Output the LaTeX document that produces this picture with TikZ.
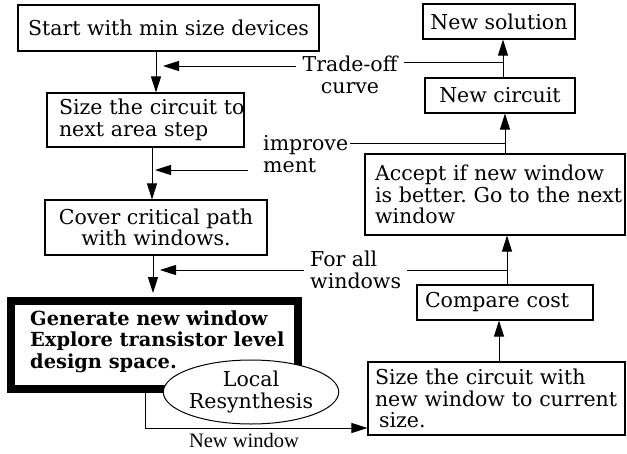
\documentclass[tikz,border=0pt]{standalone}
\usepackage{fontspec}
\setmainfont{DejaVu Serif}
\newfontfamily\timesfont{Liberation Serif}
\usetikzlibrary{arrows.meta,shapes.geometric}
\begin{document}
\begin{tikzpicture}[x=1pt,y=-1pt,
  mainfont/.style={font=\fontsize{20.5}{21.5}\selectfont\frenchspacing},
  box/.style={draw,line width=1.1pt,rectangle,inner sep=0pt,mainfont},
  arr/.style={line width=1pt,-{Triangle[length=16pt,width=10pt]}},
  ln/.style={line width=1pt},
  lbl/.style={inner xsep=6pt,inner ysep=0pt,mainfont}]
\useasboundingbox (0,0) rectangle (627,453);
% coordinates used as x/y references
\coordinate (xa) at (156,0);
\coordinate (xb) at (152,0);
\coordinate (xc) at (153,0);
\coordinate (v1) at (503,0);
\coordinate (v2) at (505,0);
\coordinate (v3) at (507,0);
\coordinate (v4) at (499,0);
\coordinate (t1) at (163,66);
\coordinate (t2) at (503,62);
\coordinate (i1) at (155,170);
\coordinate (i2) at (505,143);
\coordinate (f1) at (160,270);
\coordinate (f2) at (507,270);
\coordinate (nwc) at (145,428);
% left column
\node[box,minimum width=301,minimum height=46,align=center] (b1) at (168.5,28) {Start with min size devices};
\node[box,minimum width=197,minimum height=54,inner xsep=12,text width=173,align=left] (b2) at (145.5,120) {\mbox{Size the circuit to}\\\mbox{next area step}};
\node[box,minimum width=222,minimum height=55,align=center] (b3) at (156,227.5) {Cover critical path\\with windows.};
\node[box,line width=8pt,minimum width=287,minimum height=88] (b4) at (154.5,345) {};
\node[lbl,inner xsep=0pt,anchor=west,align=left,font=\fontsize{19.4}{21.5}\selectfont\bfseries] (b4t) at (30,341.5) {Generate new window\\Explore transistor level\\design space.};
\node[draw,ellipse,fill=white,line width=1pt,minimum width=156,minimum height=64,inner sep=0pt,align=center,mainfont] (ls) at (251,392) {Local\\Resynthesis};
% right column
\node[box,minimum width=152,minimum height=35,align=center] (ns) at (499,21.5) {New solution};
\node[box,minimum width=150,minimum height=35,align=center] (nc) at (500,95.5) {New circuit};
\node[box,minimum width=260,minimum height=81,inner xsep=10,text width=240,align=left] (acc) at (495,194.5) {\mbox{Accept if new window}\\\mbox{is better. Go to the next}\\\mbox{window}};
\node[box,minimum width=176,minimum height=35,inner xsep=8,text width=160,align=left] (cc) at (505,302.5) {\mbox{Compare cost}};
\node[box,minimum width=257,minimum height=73,inner xsep=7,text width=243,align=left] (sz) at (496.5,398.5) {\mbox{Size the circuit with}\\\mbox{new window to current}\\\mbox{\hspace{4pt}size.}};
% labels
\node[lbl,align=center] (to) at (350,75) {Trade-off\\curve};
\node[lbl,anchor=west,align=left,inner xsep=2pt] (im) at (261,154) {improve\\ment};
\node[lbl,anchor=west,align=left] (fa) at (304,270) {For all\\windows};
\node[inner sep=0pt,font=\timesfont\fontsize{20.5}{22}\selectfont] (nwl) at (244,440) {New window};
% main flow
\draw[arr] (b1.south -| xa) -- (b2.north -| xa);
\draw[arr] (b2.south -| xb) -- (b3.north -| xb);
\draw[arr,shorten >=4pt] (b3.south -| xc) -- (b4.north -| xc);
\draw[arr] (b4.south -| nwc) |- (sz.west |- nwc);
\draw[arr] (sz.north -| v4) -- (cc.south -| v4);
\draw[arr] (cc.north -| v3) -- (acc.south -| v3);
\draw[arr] (acc.north -| v2) -- (nc.south -| v2);
\draw[arr] (nc.north -| v1) -- (ns.south -| v1);
% feedback
\draw[arr] (to.west |- t1) -- (t1);
\draw[ln] (to.east |- t2) -- (t2);
\draw[arr] ([xshift=-13pt]im.west |- i1) -- (i1);
\draw[ln] (im.east |- i2) -- (i2);
\draw[arr] (fa.west |- f1) -- (f1);
\draw[ln] (fa.east |- f2) -- (f2);
\end{tikzpicture}
\end{document}
